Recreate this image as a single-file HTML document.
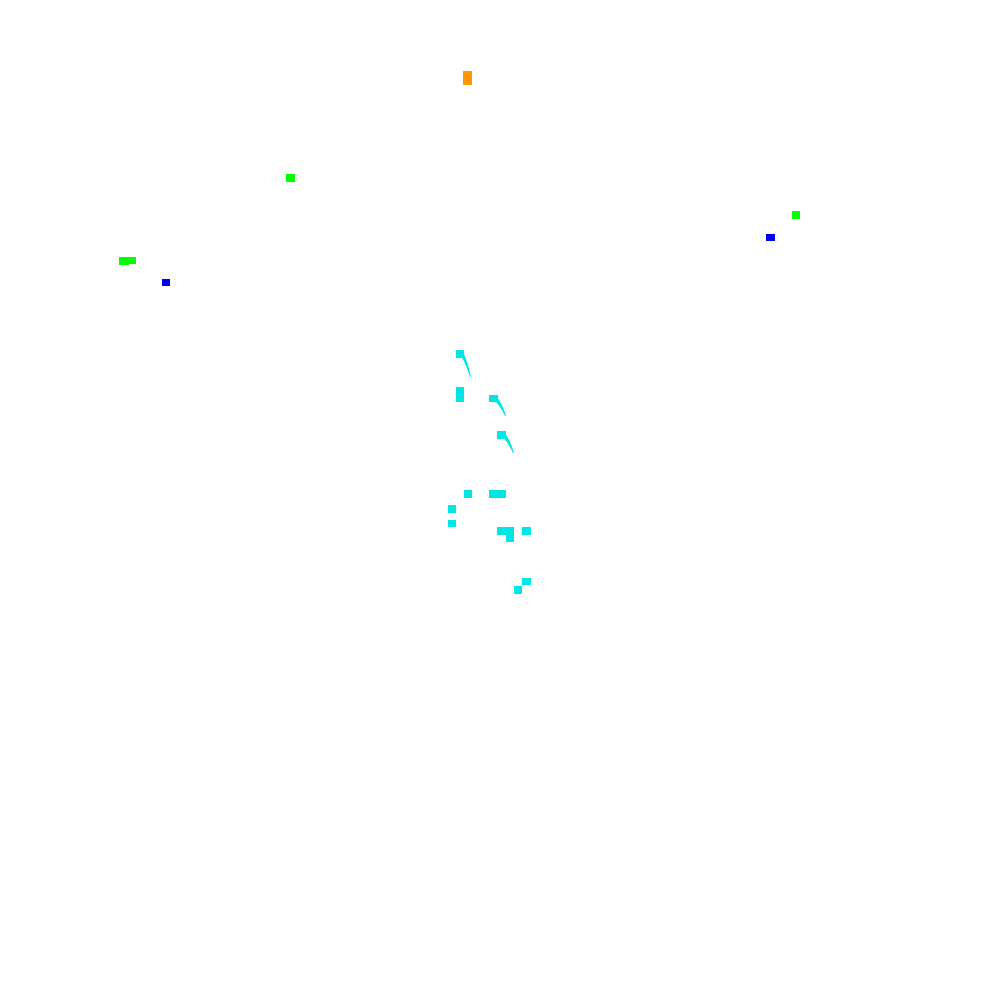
<!DOCTYPE html>
<html><head><style>
html,body{margin:0;padding:0;background:#fff;width:1000px;height:1000px;overflow:hidden}
.r{position:absolute}
.c{background:#00e5e5}.g{background:#00ff00}.b{background:#0000ee}.o{background:#ff9900}
</style></head><body>
<div class="r o" style="left:463px;top:71px;width:9px;height:14px"></div>
<div class="r g" style="left:286px;top:174px;width:9px;height:8px"></div>
<div class="r g" style="left:119px;top:257px;width:17px;height:7px"></div>
<div class="r g" style="left:119px;top:257px;width:10px;height:8px"></div>
<div class="r b" style="left:162px;top:279px;width:8px;height:7px"></div>
<div class="r g" style="left:792px;top:211px;width:8px;height:8px"></div>
<div class="r b" style="left:766px;top:234px;width:9px;height:7px"></div>

<div class="r c" style="left:456px;top:350px;width:8px;height:8px"></div>
<div class="r c" style="left:456px;top:387px;width:8px;height:15px"></div>
<div class="r c" style="left:489px;top:395px;width:9px;height:7px"></div>
<div class="r c" style="left:497px;top:431px;width:9px;height:8px"></div>
<div class="r c" style="left:464px;top:490px;width:8px;height:8px"></div>
<div class="r c" style="left:489px;top:490px;width:17px;height:8px"></div>
<div class="r c" style="left:448px;top:505px;width:8px;height:8px"></div>
<div class="r c" style="left:448px;top:520px;width:8px;height:7px"></div>
<div class="r c" style="left:497px;top:527px;width:17px;height:8px"></div>
<div class="r c" style="left:506px;top:527px;width:8px;height:15px"></div>
<div class="r c" style="left:522px;top:527px;width:9px;height:8px"></div>
<div class="r c" style="left:522px;top:578px;width:9px;height:7px"></div>
<div class="r c" style="left:514px;top:586px;width:8px;height:8px"></div>

<svg class="r" style="left:0;top:0" width="1000" height="1000">
<path d="M463 352 Q468 362 471 377 L470 377 Q466 364 461 356 Z" fill="#00e5e5"/>
<path d="M497 397 Q503 405 506 416 L505 416 Q501 407 495 401 Z" fill="#00e5e5"/>
<path d="M505 433 Q511 442 514 453 L513 453 Q509 444 503 437 Z" fill="#00e5e5"/>
</svg>
</body></html>
